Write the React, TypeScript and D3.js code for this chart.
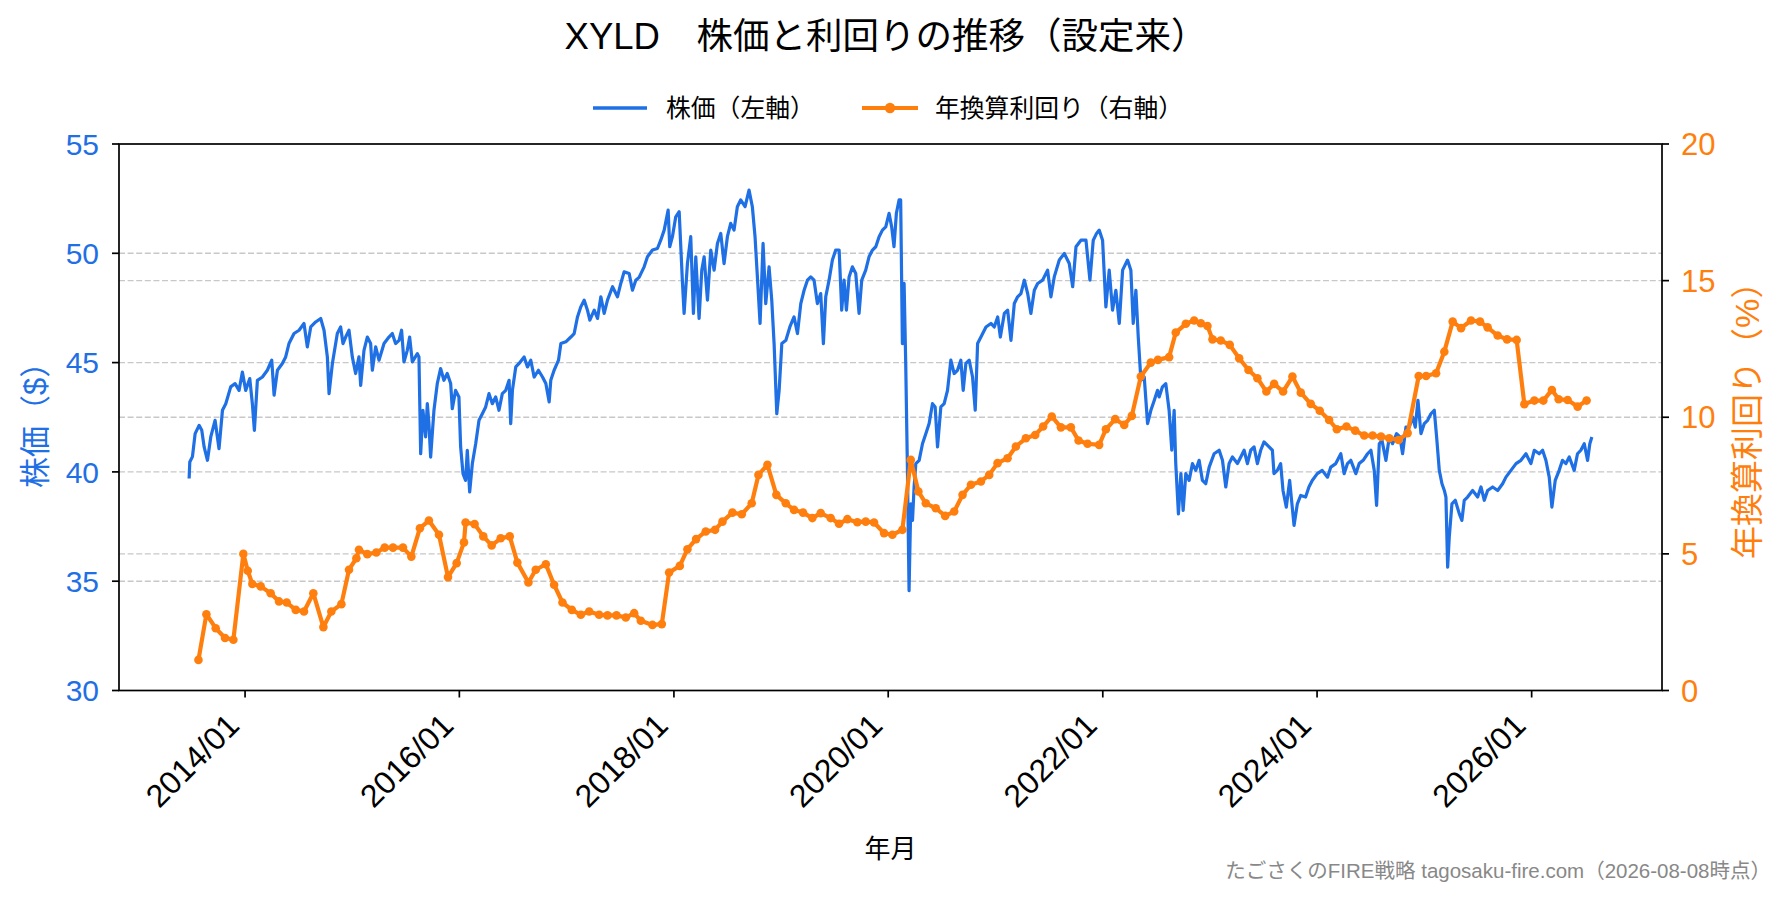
import * as d3 from 'd3';

// price (left axis) – [decimal year, $]
const priceSeries: [number, number][] = [
  [2013.478, 39.7], [2013.484, 40.45], [2013.509, 40.7], [2013.534, 41.75], [2013.571, 42.13], [2013.596, 41.9],
  [2013.618, 41.14], [2013.649, 40.53], [2013.68, 41.6], [2013.72, 42.36], [2013.757, 41.06], [2013.789, 42.82],
  [2013.82, 43.12], [2013.866, 43.89], [2013.907, 44.04], [2013.944, 43.73], [2013.975, 44.57], [2014.006, 43.73],
  [2014.044, 44.27], [2014.068, 43.12], [2014.087, 41.9], [2014.115, 44.19], [2014.162, 44.34], [2014.208, 44.65],
  [2014.249, 45.11], [2014.271, 43.51], [2014.302, 44.65], [2014.348, 44.96], [2014.379, 45.26], [2014.41, 45.87],
  [2014.457, 46.33], [2014.504, 46.48], [2014.55, 46.79], [2014.581, 45.72], [2014.613, 46.63], [2014.659, 46.86],
  [2014.706, 47.02], [2014.737, 46.48], [2014.768, 45.26], [2014.784, 43.58], [2014.815, 44.96], [2014.861, 46.33],
  [2014.892, 46.63], [2014.914, 45.87], [2014.939, 46.17], [2014.97, 46.48], [2015.001, 45.26], [2015.032, 44.5],
  [2015.063, 45.26], [2015.079, 43.96], [2015.11, 45.56], [2015.141, 46.17], [2015.172, 45.87], [2015.188, 44.65],
  [2015.219, 45.72], [2015.25, 45.11], [2015.297, 45.87], [2015.343, 46.17], [2015.374, 46.33], [2015.405, 45.87],
  [2015.437, 46.02], [2015.461, 46.48], [2015.483, 45.03], [2015.514, 45.56], [2015.536, 46.17], [2015.561, 45.03],
  [2015.608, 45.41], [2015.623, 45.26], [2015.639, 40.83], [2015.66, 42.82], [2015.685, 41.6], [2015.701, 43.12],
  [2015.716, 42.21], [2015.732, 40.68], [2015.763, 42.82], [2015.794, 44.04], [2015.825, 44.73], [2015.856, 44.19],
  [2015.887, 44.5], [2015.919, 44.04], [2015.934, 42.89], [2015.965, 43.73], [2015.996, 43.43], [2016.012, 41.14],
  [2016.034, 39.92], [2016.058, 39.61], [2016.074, 40.99], [2016.096, 39.08], [2016.121, 40.38], [2016.152, 41.29],
  [2016.183, 42.36], [2016.214, 42.66], [2016.245, 42.97], [2016.276, 43.58], [2016.307, 43.12], [2016.338, 43.43],
  [2016.369, 42.82], [2016.4, 43.58], [2016.432, 43.73], [2016.463, 44.19], [2016.478, 42.21], [2016.494, 43.73],
  [2016.525, 44.8], [2016.556, 44.96], [2016.603, 45.26], [2016.634, 44.8], [2016.665, 45.11], [2016.696, 44.34],
  [2016.736, 44.65], [2016.774, 44.34], [2016.805, 44.04], [2016.836, 43.2], [2016.851, 44.19], [2016.882, 44.65],
  [2016.923, 45.11], [2016.945, 45.87], [2016.991, 45.95], [2017.038, 46.17], [2017.069, 46.33], [2017.1, 47.09],
  [2017.131, 47.55], [2017.162, 47.86], [2017.193, 47.4], [2017.215, 46.94], [2017.256, 47.4], [2017.287, 47.02],
  [2017.318, 48.01], [2017.349, 47.25], [2017.38, 47.86], [2017.427, 48.47], [2017.473, 48.01], [2017.504, 48.62],
  [2017.535, 49.15], [2017.582, 49.08], [2017.613, 48.31], [2017.644, 48.77], [2017.675, 48.9], [2017.722, 49.38],
  [2017.753, 49.84], [2017.8, 50.15], [2017.846, 50.22], [2017.877, 50.6], [2017.909, 51.06], [2017.946, 51.98],
  [2017.961, 50.3], [2017.986, 50.76], [2018.017, 51.67], [2018.049, 51.9], [2018.08, 48.62], [2018.095, 47.25],
  [2018.126, 49.53], [2018.157, 50.76], [2018.182, 47.25], [2018.204, 49.84], [2018.235, 47.02], [2018.26, 49.23],
  [2018.282, 49.84], [2018.313, 47.86], [2018.344, 50.15], [2018.375, 49.23], [2018.406, 50.45], [2018.437, 50.91],
  [2018.468, 49.53], [2018.499, 50.76], [2018.53, 51.37], [2018.561, 51.06], [2018.592, 52.13], [2018.623, 52.44],
  [2018.664, 52.13], [2018.701, 52.89], [2018.732, 52.13], [2018.757, 50.76], [2018.779, 48.92], [2018.804, 46.79],
  [2018.832, 50.45], [2018.857, 47.7], [2018.888, 49.38], [2018.913, 47.86], [2018.935, 45.87], [2018.96, 42.66],
  [2018.982, 43.73], [2019.007, 45.87], [2019.045, 46.02], [2019.082, 46.63], [2019.121, 47.09], [2019.153, 46.33],
  [2019.184, 47.7], [2019.215, 48.31], [2019.246, 48.77], [2019.277, 48.92], [2019.308, 48.77], [2019.339, 47.7],
  [2019.37, 48.16], [2019.395, 45.87], [2019.417, 48.01], [2019.448, 48.77], [2019.479, 49.69], [2019.51, 50.15],
  [2019.542, 50.15], [2019.566, 47.4], [2019.588, 48.77], [2019.61, 47.4], [2019.635, 48.92], [2019.666, 49.38],
  [2019.697, 49.08], [2019.728, 47.25], [2019.753, 48.77], [2019.79, 49.23], [2019.821, 49.84], [2019.853, 50.15],
  [2019.884, 50.3], [2019.915, 50.76], [2019.946, 51.06], [2019.977, 51.21], [2020.008, 51.83], [2020.032, 51.21],
  [2020.054, 50.3], [2020.076, 51.83], [2020.101, 52.44], [2020.116, 52.44], [2020.132, 45.87], [2020.148, 48.62],
  [2020.163, 44.96], [2020.179, 40.07], [2020.194, 34.57], [2020.21, 38.54], [2020.226, 37.78], [2020.241, 39.31],
  [2020.257, 40.38], [2020.288, 40.53], [2020.319, 41.29], [2020.35, 41.75], [2020.381, 42.21], [2020.412, 43.12],
  [2020.437, 42.97], [2020.459, 41.14], [2020.49, 42.97], [2020.521, 43.12], [2020.552, 43.73], [2020.583, 45.11],
  [2020.614, 44.5], [2020.645, 44.65], [2020.676, 45.11], [2020.698, 43.73], [2020.723, 44.96], [2020.754, 45.11],
  [2020.785, 44.34], [2020.81, 42.82], [2020.832, 45.87], [2020.863, 46.17], [2020.91, 46.63], [2020.956, 46.79],
  [2020.987, 46.63], [2021.019, 47.09], [2021.044, 46.17], [2021.081, 47.25], [2021.112, 47.4], [2021.143, 46.02],
  [2021.174, 47.7], [2021.205, 48.01], [2021.236, 48.16], [2021.268, 48.77], [2021.299, 48.16], [2021.329, 47.25],
  [2021.361, 48.31], [2021.392, 48.62], [2021.438, 48.77], [2021.485, 49.23], [2021.516, 48.01], [2021.547, 48.92],
  [2021.594, 49.69], [2021.641, 49.99], [2021.687, 49.53], [2021.719, 48.47], [2021.75, 50.3], [2021.796, 50.6],
  [2021.843, 50.6], [2021.88, 48.77], [2021.911, 50.6], [2021.942, 50.91], [2021.967, 51.06], [2021.998, 50.6],
  [2022.029, 47.55], [2022.06, 49.23], [2022.091, 47.4], [2022.122, 48.31], [2022.154, 46.79], [2022.185, 49.23],
  [2022.231, 49.69], [2022.262, 49.23], [2022.284, 46.79], [2022.309, 48.31], [2022.331, 46.17], [2022.356, 44.19],
  [2022.387, 44.34], [2022.418, 42.21], [2022.449, 42.82], [2022.48, 43.27], [2022.511, 43.73], [2022.526, 43.43],
  [2022.557, 43.89], [2022.588, 44.04], [2022.619, 42.82], [2022.644, 40.99], [2022.666, 42.82], [2022.681, 40.38],
  [2022.706, 38.08], [2022.729, 39.92], [2022.75, 38.24], [2022.775, 39.92], [2022.806, 39.61], [2022.837, 40.38],
  [2022.868, 40.07], [2022.899, 40.53], [2022.93, 39.61], [2022.961, 39.46], [2022.993, 40.22], [2023.039, 40.83],
  [2023.086, 40.99], [2023.117, 40.53], [2023.148, 39.31], [2023.179, 40.38], [2023.21, 40.68], [2023.257, 40.38],
  [2023.288, 40.68], [2023.319, 40.99], [2023.35, 40.38], [2023.381, 40.99], [2023.412, 41.14], [2023.443, 40.38],
  [2023.474, 40.99], [2023.505, 41.37], [2023.552, 41.14], [2023.583, 40.99], [2023.598, 39.92], [2023.629, 40.07],
  [2023.66, 40.38], [2023.682, 39.15], [2023.713, 38.39], [2023.744, 39.61], [2023.785, 37.55], [2023.816, 38.54],
  [2023.847, 38.92], [2023.893, 38.85], [2023.924, 39.31], [2023.955, 39.61], [2024.002, 39.92], [2024.048, 40.07],
  [2024.097, 39.76], [2024.128, 40.22], [2024.174, 40.38], [2024.221, 40.83], [2024.252, 39.92], [2024.283, 40.38],
  [2024.314, 40.53], [2024.361, 39.92], [2024.392, 40.38], [2024.429, 40.53], [2024.47, 40.83], [2024.501, 40.99],
  [2024.532, 40.07], [2024.554, 38.47], [2024.579, 41.29], [2024.604, 41.44], [2024.641, 40.53], [2024.672, 41.6],
  [2024.703, 41.29], [2024.74, 41.75], [2024.771, 41.6], [2024.796, 40.83], [2024.827, 42.05], [2024.858, 42.05],
  [2024.89, 42.51], [2024.914, 42.05], [2024.939, 43.27], [2024.967, 41.75], [2024.998, 42.21], [2025.029, 42.36],
  [2025.06, 42.66], [2025.091, 42.82], [2025.113, 41.6], [2025.138, 40.07], [2025.163, 39.46], [2025.185, 39.15],
  [2025.2, 38.85], [2025.216, 35.64], [2025.231, 37.02], [2025.256, 38.54], [2025.287, 38.7], [2025.325, 38.08],
  [2025.349, 37.78], [2025.371, 38.7], [2025.402, 38.85], [2025.449, 39.15], [2025.496, 38.85], [2025.527, 39.31],
  [2025.558, 38.7], [2025.589, 39.15], [2025.636, 39.31], [2025.683, 39.15], [2025.729, 39.46], [2025.76, 39.76],
  [2025.807, 40.07], [2025.854, 40.38], [2025.9, 40.53], [2025.947, 40.83], [2025.993, 40.38], [2026.025, 40.99],
  [2026.071, 40.83], [2026.102, 40.99], [2026.133, 40.53], [2026.164, 39.76], [2026.189, 38.39], [2026.22, 39.61],
  [2026.257, 40.07], [2026.288, 40.53], [2026.32, 40.38], [2026.351, 40.68], [2026.397, 40.07], [2026.428, 40.83],
  [2026.459, 40.99], [2026.491, 41.29], [2026.522, 40.53], [2026.543, 41.29], [2026.562, 41.6],
];

// annualised distribution yield (right axis) – [decimal year, %]
const yieldSeries: [number, number][] = [
  [2013.565, 1.12], [2013.639, 2.79], [2013.726, 2.28], [2013.813, 1.92], [2013.891, 1.86], [2013.984, 5.0],
  [2014.025, 4.38], [2014.068, 3.9], [2014.146, 3.81], [2014.239, 3.56], [2014.317, 3.26], [2014.389, 3.22],
  [2014.473, 2.95], [2014.55, 2.89], [2014.637, 3.56], [2014.731, 2.32], [2014.805, 2.89], [2014.899, 3.16],
  [2014.97, 4.42], [2015.039, 4.84], [2015.063, 5.15], [2015.141, 4.99], [2015.225, 5.05], [2015.303, 5.23],
  [2015.381, 5.23], [2015.474, 5.23], [2015.552, 4.9], [2015.632, 5.94], [2015.716, 6.22], [2015.81, 5.7],
  [2015.894, 4.15], [2015.975, 4.66], [2016.043, 5.42], [2016.058, 6.15], [2016.142, 6.09], [2016.223, 5.64],
  [2016.301, 5.31], [2016.385, 5.57], [2016.469, 5.64], [2016.54, 4.68], [2016.643, 3.95], [2016.711, 4.42],
  [2016.805, 4.62], [2016.882, 3.87], [2016.96, 3.22], [2017.047, 2.95], [2017.131, 2.77], [2017.209, 2.89],
  [2017.302, 2.77], [2017.38, 2.75], [2017.464, 2.75], [2017.551, 2.67], [2017.629, 2.83], [2017.691, 2.55],
  [2017.8, 2.4], [2017.887, 2.43], [2017.955, 4.32], [2018.055, 4.56], [2018.126, 5.17], [2018.207, 5.54],
  [2018.297, 5.82], [2018.384, 5.88], [2018.453, 6.18], [2018.546, 6.51], [2018.633, 6.45], [2018.726, 6.85],
  [2018.789, 7.89], [2018.873, 8.26], [2018.956, 7.16], [2019.044, 6.85], [2019.121, 6.61], [2019.205, 6.51],
  [2019.292, 6.31], [2019.37, 6.49], [2019.463, 6.31], [2019.541, 6.1], [2019.619, 6.27], [2019.712, 6.16],
  [2019.79, 6.18], [2019.868, 6.15], [2019.961, 5.76], [2020.039, 5.7], [2020.132, 5.88], [2020.21, 8.44],
  [2020.281, 7.28], [2020.35, 6.85], [2020.443, 6.67], [2020.53, 6.39], [2020.614, 6.55], [2020.692, 7.16],
  [2020.77, 7.53], [2020.863, 7.65], [2020.94, 7.89], [2021.018, 8.32], [2021.111, 8.5], [2021.189, 8.93],
  [2021.282, 9.23], [2021.369, 9.35], [2021.443, 9.66], [2021.524, 10.03], [2021.609, 9.63], [2021.702, 9.63],
  [2021.774, 9.15], [2021.858, 9.03], [2021.966, 8.99], [2022.029, 9.56], [2022.116, 9.93], [2022.2, 9.72],
  [2022.271, 10.05], [2022.355, 11.49], [2022.448, 12.0], [2022.515, 12.1], [2022.619, 12.2], [2022.681, 13.1],
  [2022.775, 13.42], [2022.853, 13.54], [2022.915, 13.44], [2022.977, 13.34], [2023.024, 12.85], [2023.101, 12.81],
  [2023.185, 12.65], [2023.273, 12.16], [2023.36, 11.73], [2023.443, 11.43], [2023.527, 10.94], [2023.599, 11.22],
  [2023.683, 10.94], [2023.77, 11.49], [2023.848, 10.9], [2023.941, 10.49], [2024.025, 10.24], [2024.112, 9.9],
  [2024.184, 9.56], [2024.274, 9.66], [2024.355, 9.51], [2024.439, 9.33], [2024.517, 9.33], [2024.595, 9.29],
  [2024.672, 9.23], [2024.759, 9.17], [2024.843, 9.42], [2024.946, 11.51], [2025.015, 11.51], [2025.108, 11.61],
  [2025.185, 12.4], [2025.263, 13.5], [2025.341, 13.26], [2025.434, 13.54], [2025.518, 13.5], [2025.589, 13.29],
  [2025.683, 12.99], [2025.77, 12.85], [2025.86, 12.83], [2025.932, 10.48], [2026.025, 10.61], [2026.109, 10.61],
  [2026.189, 11.0], [2026.252, 10.66], [2026.336, 10.63], [2026.429, 10.39], [2026.513, 10.61],
];

const priceTicks = [30, 35, 40, 45, 50, 55];
const yieldTicks = [0, 5, 10, 15, 20];

const TITLE = 'XYLD　株価と利回りの推移（設定来）';
const LEGEND_PRICE = '株価（左軸）';
const LEGEND_YIELD = '年換算利回り（右軸）';
const LABEL_LEFT = '株価（$）';
const LABEL_RIGHT = '年換算利回り（%）';
const LABEL_X = '年月';
const CREDIT = 'たごさくのFIRE戦略 tagosaku-fire.com（2026-08-08時点）';

const BLUE = '#1f6fe5';
const ORANGE = '#ff7f0e';
const FONT = '"Liberation Sans", "Noto Sans CJK JP", sans-serif';

const toDate = (y: number) => {
  const yr = Math.floor(y);
  const s = new Date(yr, 0, 1).getTime();
  const e = new Date(yr + 1, 0, 1).getTime();
  return new Date(s + (y - yr) * (e - s));
};

export default function App() {
  const width = 1791;
  const height = 900;
  const left = 119;
  const right = 1662;
  const top = 144;
  const bottom = 690.5;

  const allYears = [...priceSeries, ...yieldSeries].map((d) => d[0]);
  const t0 = toDate(d3.min(allYears)!).getTime();
  const t1 = toDate(d3.max(allYears)!).getTime();
  const pad = (t1 - t0) * 0.05;

  const x = d3.scaleTime().domain([new Date(t0 - pad), new Date(t1 + pad)]).range([left, right]);
  const yL = d3.scaleLinear().domain([30, 55]).range([bottom, top]);
  const yR = d3.scaleLinear().domain([0, 20]).range([bottom, top]);

  const priceLine = d3
    .line<[number, number]>()
    .x((d) => x(toDate(d[0])))
    .y((d) => yL(d[1]));
  const yieldLine = d3
    .line<[number, number]>()
    .x((d) => x(toDate(d[0])))
    .y((d) => yR(d[1]));

  const xTicks = x.ticks(d3.timeYear.every(2)!);
  const fmt = d3.timeFormat('%Y/%m');
  const cy = (top + bottom) / 2;

  return (
    <svg
      width={width}
      height={height}
      fontFamily={FONT}
      style={{ position: 'absolute', left: 0, top: 0, background: '#fff' }}
    >
      <rect width={width} height={height} fill="#fff" />
      <text x={886} y={49} fontSize={36.5} textAnchor="middle" fill="#000">
        {TITLE}
      </text>

      {/* legend */}
      <g fontSize={24.8} fill="#000">
        <line x1={593} x2={647} y1={108} y2={108} stroke={BLUE} strokeWidth={3.4} />
        <text x={666} y={108} dy="0.35em">{LEGEND_PRICE}</text>
        <line x1={862} x2={918} y1={108} y2={108} stroke={ORANGE} strokeWidth={4.2} />
        <circle cx={890} cy={108} r={5.2} fill={ORANGE} />
        <text x={935} y={108} dy="0.35em">{LEGEND_YIELD}</text>
      </g>

      {/* grid */}
      <g stroke="#c8c8c8" strokeWidth={1.4} strokeDasharray="6 2.6">
        {priceTicks.slice(1, -1).map((v) => (
          <line key={'gl' + v} x1={left} x2={right} y1={yL(v)} y2={yL(v)} />
        ))}
        {yieldTicks.slice(1, -1).map((v) => (
          <line key={'gr' + v} x1={left} x2={right} y1={yR(v)} y2={yR(v)} />
        ))}
      </g>

      <path d={priceLine(priceSeries)!} fill="none" stroke={BLUE} strokeWidth={3.2} strokeLinejoin="round" />
      <path d={yieldLine(yieldSeries)!} fill="none" stroke={ORANGE} strokeWidth={4.2} strokeLinejoin="round" />
      {yieldSeries.map((d, i) => (
        <circle key={i} cx={x(toDate(d[0]))} cy={yR(d[1])} r={4.3} fill={ORANGE} />
      ))}

      {/* frame */}
      <rect x={left} y={top} width={right - left} height={bottom - top} fill="none" stroke="#000" strokeWidth={1.7} />

      {/* left axis */}
      <g fontSize={30} fill={BLUE}>
        {priceTicks.map((v) => (
          <g key={'l' + v}>
            <line x1={left - 7} x2={left} y1={yL(v)} y2={yL(v)} stroke="#000" strokeWidth={1.7} />
            <text x={left - 20} y={yL(v)} dy="0.36em" textAnchor="end">{v}</text>
          </g>
        ))}
      </g>
      <text transform={`translate(35,${cy}) rotate(-90)`} fontSize={31} fill={BLUE} textAnchor="middle" dy="0.35em">
        {LABEL_LEFT}
      </text>

      {/* right axis */}
      <g fontSize={31} fill={ORANGE}>
        {yieldTicks.map((v) => (
          <g key={'r' + v}>
            <line x1={right} x2={right + 7} y1={yR(v)} y2={yR(v)} stroke="#000" strokeWidth={1.7} />
            <text x={right + 19} y={yR(v)} dy="0.36em">{v}</text>
          </g>
        ))}
      </g>
      <text transform={`translate(1747,${cy - 5}) rotate(-90)`} fontSize={33} fill={ORANGE} textAnchor="middle" dy="0.35em">
        {LABEL_RIGHT}
      </text>

      {/* x axis */}
      <g fontSize={32} fill="#000">
        {xTicks.map((t) => (
          <g key={t.getTime()}>
            <line x1={x(t)} x2={x(t)} y1={bottom} y2={bottom + 7} stroke="#000" strokeWidth={1.7} />
            <text transform={`translate(${x(t) - 4},${bottom + 37}) rotate(-45)`} textAnchor="end">
              {fmt(t)}
            </text>
          </g>
        ))}
      </g>
      <text x={(left + right) / 2} y={858} fontSize={26} textAnchor="middle" fill="#000">
        {LABEL_X}
      </text>
      <text x={1771} y={878} fontSize={20.5} textAnchor="end" fill="#888">
        {CREDIT}
      </text>
    </svg>
  );
}
